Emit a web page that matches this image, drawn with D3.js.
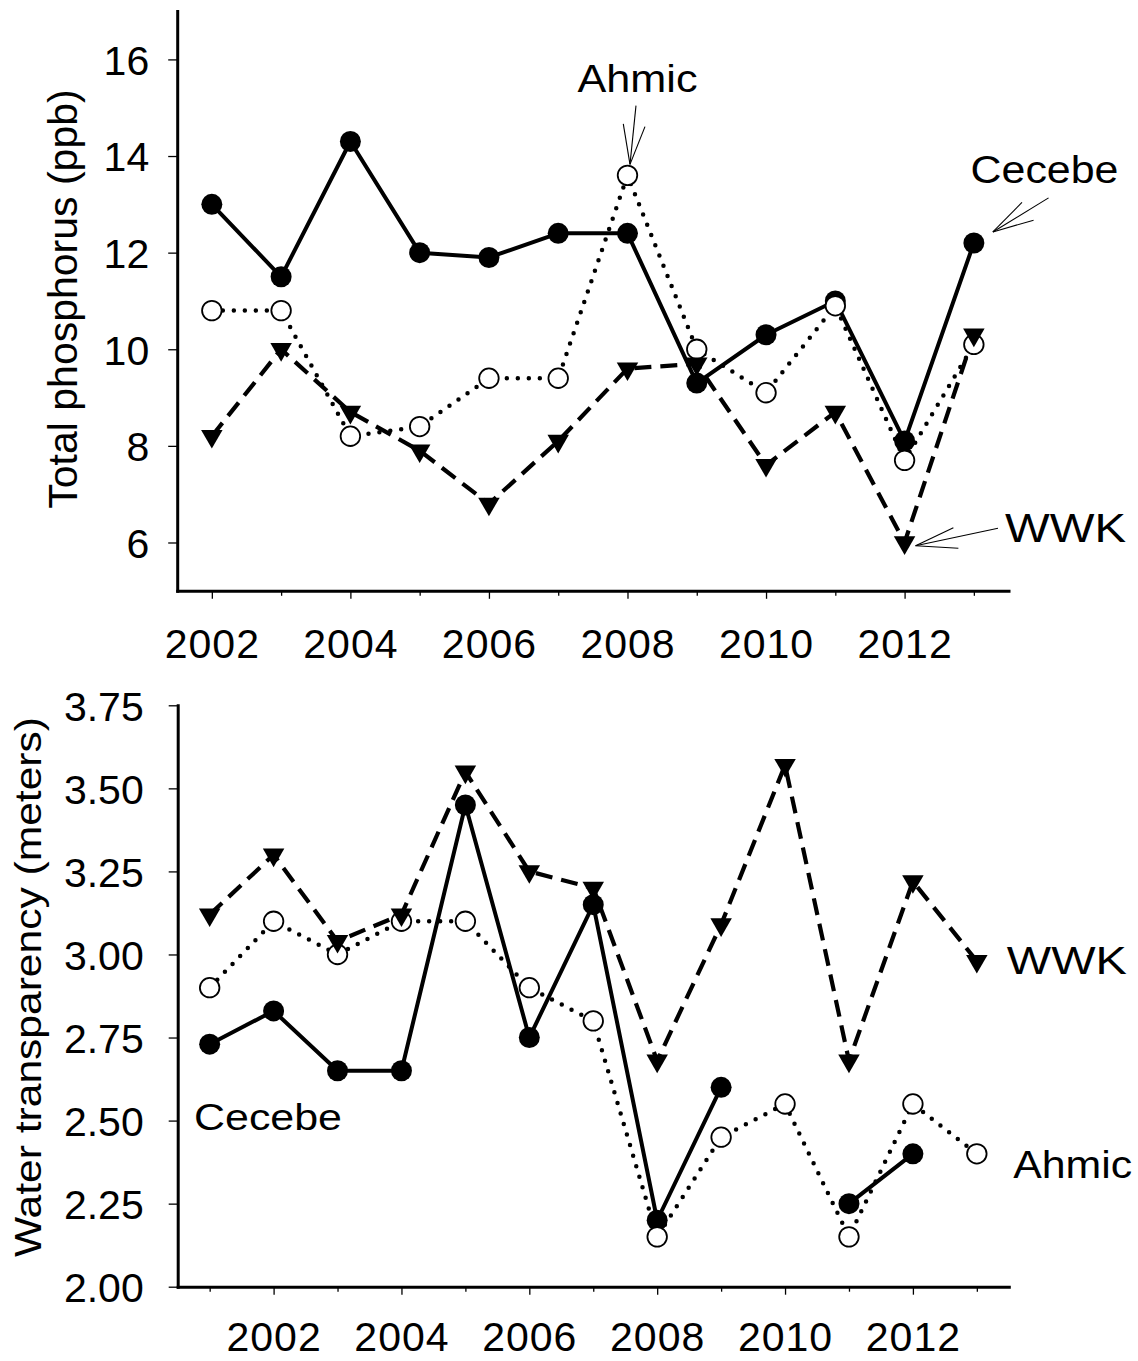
<!DOCTYPE html>
<html><head><meta charset="utf-8">
<script src="https://cdn.jsdelivr.net/npm/d3@7"></script>
<style>
body{margin:0;background:#fff}
svg{display:block}
text{font-family:"Liberation Sans",Arial,Helvetica,sans-serif;fill:#000}
</style>
</head><body>
<svg id="chart" width="1138" height="1361"></svg>
<script>
// ---------- Data: Total phosphorus (top panel) ----------
const tpYears   = [2002,2003,2004,2005,2006,2007,2008,2009,2010,2011,2012,2013];
const tpCecebe  = [13.0,11.5,14.3,12.0,11.9,12.4,12.4,9.3,10.3,11.0,8.1,12.2];
const tpAhmic   = [10.8,10.8,8.2,8.4,9.4,9.4,13.6,10.0,9.1,10.9,7.7,10.1];
const tpWWK     = [8.2,10.0,8.7,7.9,6.8,8.1,9.6,9.7,7.6,8.7,6.0,10.3];
const tpYTicks  = [6,8,10,12,14,16];
const tpXLabels = [2002,2004,2006,2008,2010,2012];

// ---------- Data: Water transparency (bottom panel) ----------
const wtYears   = [2001,2002,2003,2004,2005,2006,2007,2008,2009,2010,2011,2012,2013];
const wtCecebe  = [2.73,2.83,2.65,2.65,3.45,2.75,3.15,2.20,2.60,null,2.25,2.40,null];
const wtAhmic   = [2.90,3.10,3.00,3.10,3.10,2.90,2.80,2.15,2.45,2.55,2.15,2.55,2.40];
const wtWWK     = [3.12,3.30,3.04,3.12,3.55,3.25,3.20,2.68,3.09,3.57,2.68,3.22,2.98];
const wtYTicks  = [2.00,2.25,2.50,2.75,3.00,3.25,3.50,3.75];
const wtXLabels = [2002,2004,2006,2008,2010,2012];

const svg = d3.select("#chart");

function panel(cfg){
  const {x, y, years, series, yTicks, xLabels, yFmt, yLabelDx, xLabelDy} = cfg;
  const g = svg.append("g");

  // lines
  series.forEach(s => {
    const pts = years.map((yr,i)=>({yr, v:s.values[i]}));
    const line = d3.line().defined(d=>d.v!=null).x(d=>x(d.yr)).y(d=>y(d.v));
    g.append("path").datum(pts)
      .attr("d", line)
      .attr("fill","none")
      .attr("stroke","#000")
      .attr("stroke-width", s.width)
      .attr("stroke-dasharray", s.dash)
      .attr("stroke-linecap", s.cap)
      .attr("stroke-linejoin","round");
  });
  // markers
  series.forEach(s => {
    const pts = years.map((yr,i)=>({yr, v:s.values[i]})).filter(d=>d.v!=null);
    g.append("g").selectAll("path").data(pts).join("path")
      .attr("d", d3.symbol().type(s.shape === "tri" ? d3.symbolTriangle : d3.symbolCircle).size(s.size)())
      .attr("fill", s.fill)
      .attr("stroke", s.fill === "#fff" ? "#000" : "none")
      .attr("stroke-width", 1.8)
      .attr("transform", d => `translate(${x(d.yr)},${y(d.v)})` + (s.shape==="tri" ? " rotate(180)" : ""));
  });

  // x axis
  const xa = g.append("g").attr("transform",`translate(0,${y.range()[0]})`)
    .call(d3.axisBottom(x).tickValues(years).tickSize(8).tickSizeOuter(0)
      .tickFormat(d => xLabels.includes(d) ? String(d) : ""));
  xa.selectAll(".tick line").attr("stroke-width",1.3)
    .attr("y2", d => xLabels.includes(d) ? 8 : 5);
  xa.selectAll(".tick text").attr("y",xLabelDy).attr("dy",0)
    .style("font-size","41px").style("letter-spacing","1px");
  // y axis
  const ya = g.append("g").attr("transform",`translate(${x.range()[0]},0)`)
    .call(d3.axisLeft(y).tickValues(yTicks).tickSize(9).tickSizeOuter(0).tickFormat(yFmt));
  ya.selectAll(".tick line").attr("stroke-width",1.3);
  ya.selectAll(".tick text").attr("x",yLabelDx).attr("dy","0.36em").style("font-size","41px");
  [xa, ya].forEach(a => {
    a.select(".domain").attr("stroke-width",3).attr("stroke-linecap","square");
    a.attr("font-family",null).attr("font-size",null);
  });
  return g;
}

// ---------- Top panel ----------
const xT = d3.scaleLinear().domain([2001.5, 2013.5]).range([177.2, 1008.5]);
const yT = d3.scaleLinear().domain([5, 17]).range([590.8, 11.1]);
const styles = {
  cecebe: {width:4, dash:null, cap:"butt", shape:"circle", fill:"#000", size:346},
  ahmic:  {width:4.5, dash:"0 11", cap:"round", shape:"circle", fill:"#fff", size:300},
  wwk:    {width:4.2, dash:"17 9", cap:"butt", shape:"tri", fill:"#000", size:200}
};
panel({x:xT, y:yT, years:tpYears, yTicks:tpYTicks, xLabels:tpXLabels,
  yFmt:d3.format("d"), yLabelDx:-28, xLabelDy:67.5,
  series:[
    Object.assign({values:tpCecebe}, styles.cecebe),
    Object.assign({values:tpAhmic}, styles.ahmic),
    Object.assign({values:tpWWK}, styles.wwk)
  ]});

// ---------- Bottom panel ----------
const xB = d3.scaleLinear().domain([2000.5, 2013.5]).range([177.7, 1008.8]);
const yB = d3.scaleLinear().domain([2.0, 3.75]).range([1286.7, 705.3]);
panel({x:xB, y:yB, years:wtYears, yTicks:wtYTicks, xLabels:wtXLabels,
  yFmt:d3.format(".2f"), yLabelDx:-34, xLabelDy:64.5,
  series:[
    Object.assign({values:wtCecebe}, styles.cecebe),
    Object.assign({values:wtAhmic}, styles.ahmic),
    Object.assign({values:wtWWK}, styles.wwk)
  ]});

// ---------- Axis titles ----------
svg.append("text").attr("transform","translate(77,299) rotate(-90)")
  .attr("text-anchor","middle").style("font-size","41px").text("Total phosphorus (ppb)");
svg.append("text").attr("transform","translate(41,987) rotate(-90)")
  .attr("text-anchor","middle").style("font-size","36px")
  .attr("textLength",540).attr("lengthAdjust","spacingAndGlyphs")
  .text("Water transparency (meters)");

// ---------- Series labels ----------
const labels = [
  {t:"Ahmic",  x:637.5,  y:91.7,   fs:39, w:120},
  {t:"Cecebe", x:1044.5, y:182.5,  fs:38, w:148},
  {t:"WWK",    x:1065.5, y:542.3,  fs:41, w:121},
  {t:"Cecebe", x:268,    y:1129.5, fs:37, w:148},
  {t:"WWK",    x:1066.8, y:974,    fs:38, w:120},
  {t:"Ahmic",  x:1072.7, y:1178.2, fs:38, w:119}
];
svg.append("g").selectAll("text").data(labels).join("text")
  .attr("x",d=>d.x).attr("y",d=>d.y).attr("text-anchor","middle")
  .style("font-size",d=>d.fs+"px")
  .attr("textLength",d=>d.w).attr("lengthAdjust","spacingAndGlyphs")
  .text(d=>d.t);

// ---------- Annotation arrows (top panel), anchored to data points ----------
const arrows = [
  {yr:2008, v:tpAhmic[6],  tip:[2.5,-11],  tail:[8.5,-69.7], h1:[-4.2,-51.4], h2:[17.5,-48.7]},
  {yr:2013, v:tpCecebe[11],tip:[19,-11],   tail:[74.7,-45.1], h1:[48.1,-40.5], h2:[59.7,-22.8]},
  {yr:2012, v:tpWWK[10],   tip:[11,3.2],   tail:[93.4,-14.2], h1:[48.8,-14.8], h2:[53.8,5.8]}
];
const ag = svg.append("g").attr("stroke","#000").attr("stroke-width",1.1).attr("fill","none");
arrows.forEach(a => {
  const px = xT(a.yr), py = yT(a.v);
  const tx = px + a.tip[0], ty = py + a.tip[1];
  [a.tail, a.h1, a.h2].forEach(o => {
    ag.append("line").attr("x1",tx).attr("y1",ty).attr("x2",px+o[0]).attr("y2",py+o[1]);
  });
});
</script>
</body></html>
